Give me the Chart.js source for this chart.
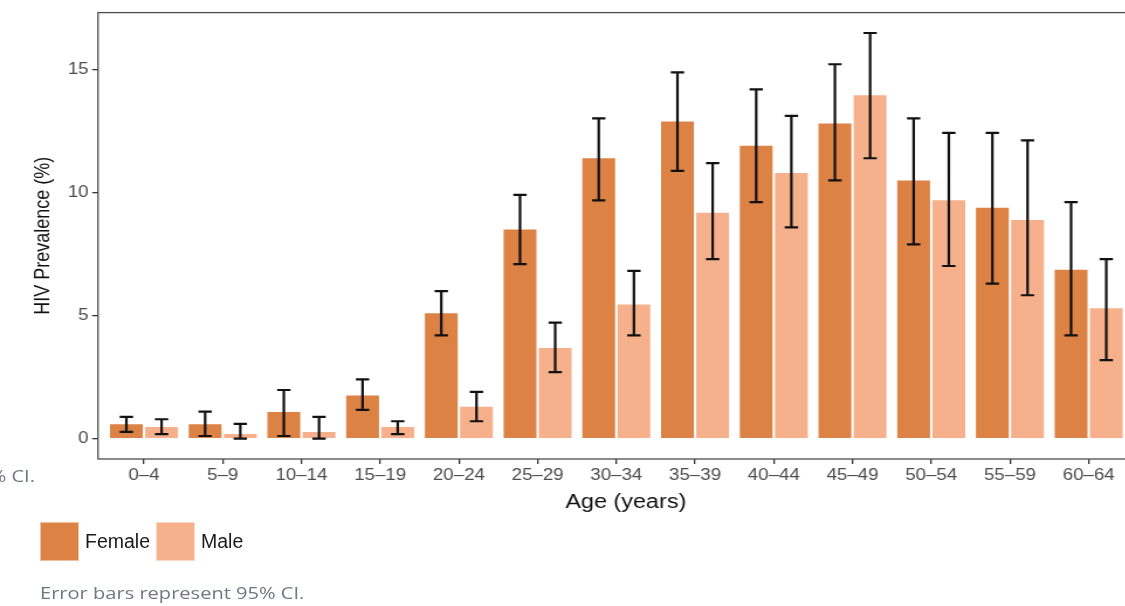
<!DOCTYPE html>
<html>
<head>
<meta charset="utf-8">
<script src="https://cdn.jsdelivr.net/npm/chart.js@4"></script>
<style>
  html, body { margin: 0; padding: 0; background: #fff; }
  body { width: 1125px; height: 606px; overflow: hidden; position: relative; }
  #wrap { position: absolute; left: 0; top: 0; transform: scaleX(1.17); transform-origin: 0 0; }
  .note { position: absolute; font-family: "Open Sans", sans-serif; font-size: 17px; line-height: 20px; color: #707780; white-space: nowrap; transform: scaleX(1.18); }
  #legend { position: absolute; left: 40px; top: 522px; display: flex; font-family: "Liberation Sans", Arial, sans-serif; font-size: 19.5px; line-height: 39px; color: #1a1a1a; }
  #legend .item { display: flex; align-items: center; margin-right: 6px; }
  #legend .box { width: 37px; height: 37px; border: 1px solid rgba(255,255,255,0.5); margin-right: 6px; }
</style>
</head>
<body>
<div id="wrap"><canvas id="myChart" width="990" height="606"></canvas></div>
<div class="note" style="left:-45px; top:466px; width:80px; text-align:right; transform-origin: 100% 0;">95% CI.</div>
<div id="legend"></div>
<div class="note" style="left:40px; top:583px; transform-origin: 0 0;">Error bars represent 95% CI.</div>
<script>
// age groups on the x axis
const ages = ['0–4', '5–9', '10–14', '15–19', '20–24', '25–29', '30–34', '35–39', '40–44', '45–49', '50–54', '55–59', '60–64'];

// prevalence (%) with 95% CI
const female     = [0.63, 0.63, 1.13, 1.80, 5.14, 8.54, 11.44, 12.93, 11.95, 12.85, 10.54, 9.43, 6.91];
const femaleLow  = [0.28, 0.11, 0.11, 1.17, 4.20, 7.10, 9.69, 10.89, 9.62, 10.50, 7.90, 6.30, 4.20];
const femaleHigh = [0.89, 1.10, 1.98, 2.41, 6.00, 9.91, 13.02, 14.89, 14.20, 15.22, 13.02, 12.43, 9.62];

const male     = [0.52, 0.23, 0.31, 0.52, 1.34, 3.73, 5.50, 9.22, 10.84, 14.00, 9.73, 8.93, 5.34];
const maleLow  = [0.19, 0.00, 0.00, 0.19, 0.71, 2.71, 4.20, 7.30, 8.59, 11.40, 7.02, 5.83, 3.19];
const maleHigh = [0.79, 0.60, 0.89, 0.71, 1.90, 4.72, 6.82, 11.20, 13.12, 16.49, 12.43, 12.13, 7.30];

const yTicks = [0, 5, 10, 15];

const femaleColor = '#DD8245';
const maleColor = '#F6B18C';
const font = '"Liberation Sans", Arial, sans-serif';

const errorBars = {
  id: 'errorBars',
  afterDatasetsDraw(chart) {
    const ctx = chart.ctx;
    const y = chart.scales.y;
    ctx.save();
    ctx.strokeStyle = '#111';
    ctx.lineWidth = 2.2;
    chart.data.datasets.forEach((ds, i) => {
      chart.getDatasetMeta(i).data.forEach((bar, j) => {
        const lo = y.getPixelForValue(ds.low[j]);
        const hi = y.getPixelForValue(ds.high[j]);
        ctx.beginPath();
        ctx.moveTo(bar.x, lo); ctx.lineTo(bar.x, hi);
        ctx.moveTo(bar.x - 5.7, lo); ctx.lineTo(bar.x + 5.7, lo);
        ctx.moveTo(bar.x - 5.7, hi); ctx.lineTo(bar.x + 5.7, hi);
        ctx.stroke();
      });
    });
    // panel border
    const a = chart.chartArea;
    ctx.strokeStyle = '#4d4d4d';
    ctx.lineWidth = 1.3;
    ctx.strokeRect(a.left, a.top, a.right - a.left, a.bottom - a.top);
    ctx.restore();
  }
};

const chart = new Chart(document.getElementById('myChart').getContext('2d'), {
  type: 'bar',
  data: {
    datasets: [
      {
        label: 'Female',
        data: female.map((v, i) => ({x: i, y: v})),
        low: femaleLow,
        high: femaleHigh,
        backgroundColor: femaleColor,
        borderColor: 'rgba(255,255,255,0.35)',
        borderWidth: 1
      },
      {
        label: 'Male',
        data: male.map((v, i) => ({x: i, y: v})),
        low: maleLow,
        high: maleHigh,
        backgroundColor: maleColor,
        borderColor: 'rgba(255,255,255,0.35)',
        borderWidth: 1
      }
    ]
  },
  options: {
    responsive: false,
    animation: false,
    devicePixelRatio: 1,
    categoryPercentage: 0.894,
    barPercentage: 1.0,
    layout: { padding: { left: 0, top: 12, right: 4, bottom: 87 } },
    plugins: {
      legend: { display: false },
      tooltip: { enabled: false }
    },
    scales: {
      x: {
        type: 'linear',
        offset: false,
        min: -0.584,
        max: 12.825,
        afterBuildTicks: (scale) => { scale.ticks = ages.map((a, i) => ({value: i})); },
        afterFit: (scale) => { scale.height = 60; },
        border: { display: false },
        grid: { offset: false, drawOnChartArea: false, drawTicks: true, tickLength: 5, color: '#333', lineWidth: 1.3 },
        ticks: {
          autoSkip: false,
          maxRotation: 0,
          padding: 2,
          color: '#4d4d4d',
          font: { family: font, size: 16 },
          callback: (v) => ages[Math.round(v)]
        },
        title: {
          display: true,
          text: 'Age (years)',
          color: '#111',
          font: { family: font, size: 20 },
          padding: { top: 0, bottom: 5 }
        }
      },
      y: {
        min: -0.825,
        max: 17.32,
        afterBuildTicks: (scale) => { scale.ticks = yTicks.map(v => ({value: v})); },
        afterFit: (scale) => { scale.width = 83.76; },
        border: { display: false },
        grid: { drawOnChartArea: false, drawTicks: true, tickLength: 5, color: '#333', lineWidth: 1.3 },
        ticks: {
          padding: 3,
          color: '#4d4d4d',
          font: { family: font, size: 16 }
        },
        title: {
          display: true,
          text: 'HIV Prevalence (%)',
          color: '#111',
          font: { family: font, size: 18 },
          padding: { top: 26, bottom: 0 }
        }
      }
    }
  },
  plugins: [errorBars]
});

// legend below the plot
const legend = document.getElementById('legend');
chart.data.datasets.forEach(ds => {
  const item = document.createElement('div');
  item.className = 'item';
  const box = document.createElement('div');
  box.className = 'box';
  box.style.background = ds.backgroundColor;
  const label = document.createElement('span');
  label.textContent = ds.label;
  item.appendChild(box);
  item.appendChild(label);
  legend.appendChild(item);
});
</script>
</body>
</html>
